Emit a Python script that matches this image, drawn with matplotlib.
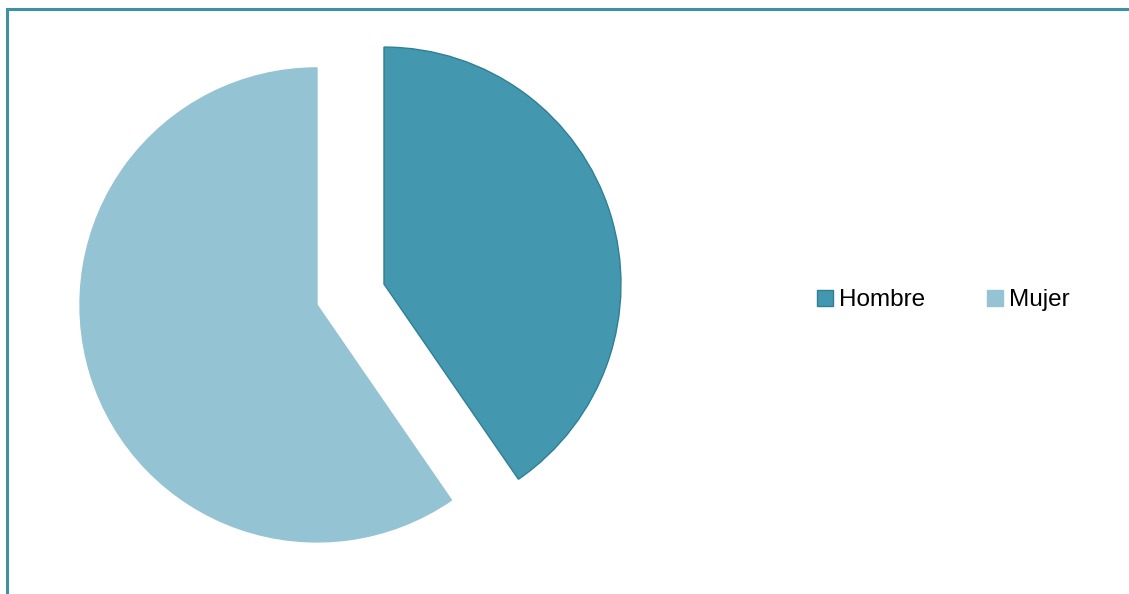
import matplotlib.pyplot as plt
from matplotlib.patches import Rectangle

# Données
categorias = ['Hombre', 'Mujer']
valores = [40.4, 59.6]
colores = ['#4398AF', '#94C3D4']
bordes = ['#2E7F96', '#94C3D4']

W, H = 1129, 594
fig = plt.figure(figsize=(W / 100, H / 100), dpi=100)
plt.rcParams['font.family'] = ['Liberation Sans', 'DejaVu Sans']

# axes sur toute la figure, rayon 1 = 237 px
r_px = 237
cx, cy = 350.5, 594 - 294.5
ax = fig.add_axes([0, 0, 1, 1])
wedges, _ = ax.pie(valores, colors=colores, startangle=90, counterclock=False,
                   explode=[0.148, 0.148],
                   wedgeprops=dict(linewidth=1.0))
for w, ec in zip(wedges, bordes):
    w.set_edgecolor(ec)
ax.set_aspect('equal')
ax.set_xlim(-cx / r_px, (W - cx) / r_px)
ax.set_ylim(-cy / r_px, (H - cy) / r_px)
ax.axis('off')

# cadre
fig.patches.append(Rectangle((6.5 / W, -0.1), 1.2, (594 - 9.5) / H + 0.1,
                             transform=fig.transFigure, fill=False,
                             edgecolor='#3F8FA6', linewidth=2.2))

leg = fig.legend(wedges, categorias, loc='center left',
                 bbox_to_anchor=(817 / W, 1 - 300.5 / H), ncol=2, frameon=False,
                 fontsize=17.5, handlelength=0.66, handleheight=0.66,
                 handletextpad=0.25, columnspacing=2.53, borderpad=0,
                 borderaxespad=0)

fig.savefig('out.png', dpi=100)
